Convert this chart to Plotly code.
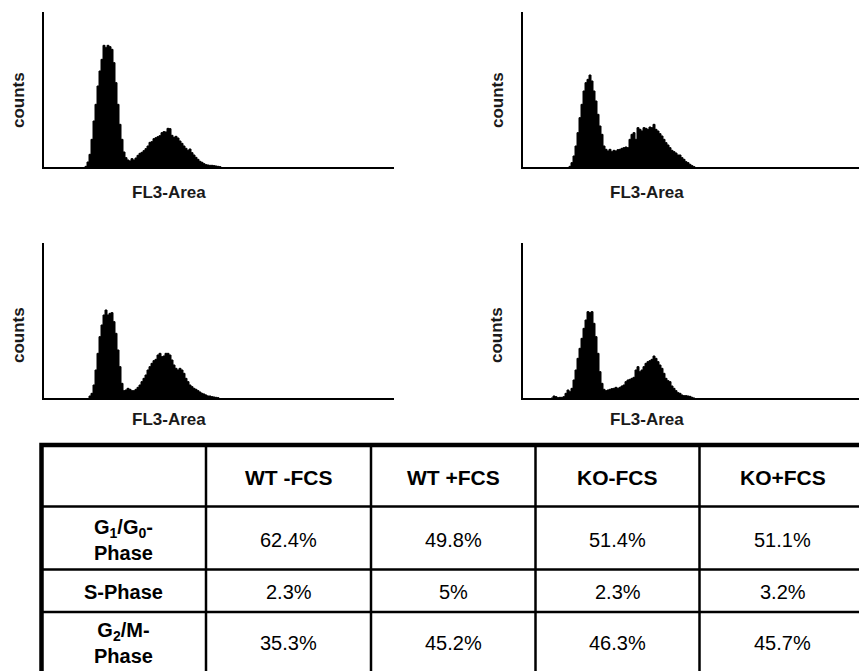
import plotly.graph_objects as go

# ---------------- data: histogram counts (bin width 2 channels) ----------------
BIN = 2
WT_NEG_START = 42
WT_NEG_COUNTS = [2, 15, 38, 83, 138, 188, 243, 288, 323, 365, 358, 365, 361, 353, 313, 253,
                 188, 128, 83, 45, 28, 21, 18, 25, 21, 27, 35, 41, 44, 49, 55, 63, 74, 76,
                 85, 88, 91, 94, 103, 106, 105, 116, 115, 95, 89, 92, 87, 78, 71, 63, 56,
                 50, 54, 43, 36, 29, 23, 17, 14, 10, 7, 6, 5, 5, 4, 3, 2, 1]

WT_POS_START = 47
WT_POS_COUNTS = [2, 13, 33, 63, 103, 148, 188, 228, 253, 263, 276, 258, 228, 198, 158, 123,
                 98, 63, 53, 48, 53, 46, 50, 48, 52, 53, 56, 58, 60, 58, 83, 98, 103, 83,
                 118, 113, 108, 118, 116, 113, 120, 118, 128, 113, 108, 100, 93, 83, 73,
                 66, 58, 50, 46, 42, 36, 36, 28, 23, 16, 13, 8, 4, 1]

KO_NEG_START = 46
KO_NEG_COUNTS = [6, 14, 39, 84, 134, 184, 219, 249, 264, 249, 254, 256, 229, 194, 144, 94,
                 44, 22, 24, 29, 26, 22, 22, 26, 32, 39, 49, 59, 69, 84, 94, 104, 112, 116,
                 129, 134, 124, 126, 134, 134, 129, 114, 99, 89, 84, 89, 84, 74, 59, 49,
                 39, 34, 29, 26, 22, 18, 14, 12, 9, 6, 6, 4, 3, 2, 1]

KO_POS_START = 29
KO_POS_COUNTS = [0, 6, 4, 1, 2, 2, 4, 14, 24, 19, 29, 54, 84, 119, 149, 179, 209, 234, 259,
                 256, 259, 224, 184, 134, 79, 44, 26, 22, 24, 26, 28, 29, 32, 29, 32, 36,
                 39, 49, 54, 56, 59, 62, 84, 94, 79, 84, 94, 104, 109, 112, 116, 126, 119,
                 109, 99, 89, 74, 59, 52, 49, 36, 29, 22, 16, 14, 9, 7, 7, 6, 5, 2, 0]

# ---------------- data: table ----------------
COL_HEADERS = ["WT -FCS", "WT +FCS", "KO-FCS", "KO+FCS"]
ROW_LABELS = ["G<sub>1</sub>/G<sub>0</sub>-<br>Phase", "S-Phase", "G<sub>2</sub>/M-<br>Phase"]
G1_VALUES = ["62.4%", "49.8%", "51.4%", "51.1%"]
S_VALUES = ["2.3%", "5%", "2.3%", "3.2%"]
G2_VALUES = ["35.3%", "45.2%", "46.3%", "45.7%"]

AXIS_X_TITLE = "FL3-Area"
AXIS_Y_TITLE = "counts"

# ---------------- layout helpers ----------------
W, H = 859, 671


def px(x):
    return x / W


def py(y):
    return 1 - y / H


FONT = "Liberation Sans, Arial, sans-serif"

fig = go.Figure()


def step_trace(start, counts, xa, ya):
    xs = [start - BIN / 2]
    ys = [0]
    for i, n in enumerate(counts):
        xs.append(start + i * BIN - BIN / 2)
        ys.append(n)
    xs.append(start + (len(counts) - 1) * BIN + BIN / 2)
    ys.append(0)
    return go.Scatter(x=xs, y=ys, mode="lines", line=dict(color="black", width=1, shape="hv"),
                      fill="tozeroy", fillcolor="black", xaxis=xa, yaxis=ya,
                      showlegend=False, hoverinfo="skip")


panels = [
    (WT_NEG_START, WT_NEG_COUNTS, "x", "y"),
    (WT_POS_START, WT_POS_COUNTS, "x2", "y2"),
    (KO_NEG_START, KO_NEG_COUNTS, "x3", "y3"),
    (KO_POS_START, KO_POS_COUNTS, "x4", "y4"),
]
for s, c, xa, ya in panels:
    fig.add_trace(step_trace(s, c, xa, ya))

# axes geometry (pixels)
left_dom = [px(44), px(394)]
right_dom = [px(523), 1.0]
top_dom = [py(167), py(12)]
bot_dom = [py(398), py(243)]

axis_common = dict(showline=True, linecolor="black", linewidth=2, showgrid=False,
                   zeroline=False, showticklabels=False, ticks="", fixedrange=True)

fig.update_layout(
    width=W, height=H, margin=dict(l=0, r=0, t=0, b=0),
    paper_bgcolor="white", plot_bgcolor="white",
    xaxis=dict(domain=left_dom, range=[0, 350], anchor="y", **axis_common),
    yaxis=dict(domain=top_dom, range=[0, 465], anchor="x", **axis_common),
    xaxis2=dict(domain=right_dom, range=[0, 336], anchor="y2", **axis_common),
    yaxis2=dict(domain=top_dom, range=[0, 465], anchor="x2", **axis_common),
    xaxis3=dict(domain=left_dom, range=[0, 350], anchor="y3", **axis_common),
    yaxis3=dict(domain=bot_dom, range=[0, 465], anchor="x3", **axis_common),
    xaxis4=dict(domain=right_dom, range=[0, 336], anchor="y4", **axis_common),
    yaxis4=dict(domain=bot_dom, range=[0, 465], anchor="x4", **axis_common),
    font=dict(family=FONT, color="black"),
)

annotations = []
label_font = dict(family=FONT, size=17, color="#1a1a1a")
for cx_counts, cx_fl3, cy_counts, cy_fl3 in [(18, 169, 100, 192), (497, 647, 100, 192),
                                             (18, 169, 335, 419), (496, 647, 335, 419)]:
    annotations.append(dict(x=px(cx_counts), y=py(cy_counts), xref="paper", yref="paper",
                            text="<b>%s</b>" % AXIS_Y_TITLE, textangle=-90, showarrow=False,
                            xanchor="center", yanchor="middle", font=label_font))
    annotations.append(dict(x=px(cx_fl3), y=py(cy_fl3), xref="paper", yref="paper",
                            text="<b>%s</b>" % AXIS_X_TITLE, showarrow=False,
                            xanchor="center", yanchor="middle", font=label_font))

# ---------------- table ----------------
col_edges = [41.5, 206, 371, 535.5, 699.5, 866]
row_edges = [445, 506.5, 569.5, 612, 676]
shapes = []
# outer border
shapes.append(dict(type="rect", xref="paper", yref="paper",
                   x0=px(col_edges[0]), x1=px(col_edges[-1]),
                   y0=py(row_edges[-1]), y1=py(row_edges[0]),
                   line=dict(color="black", width=4.5)))
for xe in col_edges[1:-1]:
    shapes.append(dict(type="line", xref="paper", yref="paper", x0=px(xe), x1=px(xe),
                       y0=py(row_edges[0]), y1=py(row_edges[-1]),
                       line=dict(color="black", width=2.5)))
for ye in row_edges[1:-1]:
    shapes.append(dict(type="line", xref="paper", yref="paper", x0=px(col_edges[0]),
                       x1=px(col_edges[-1]), y0=py(ye), y1=py(ye),
                       line=dict(color="black", width=2.5)))

col_centers = [(col_edges[i] + col_edges[i + 1]) / 2 for i in range(len(col_edges) - 1)]
row_centers = [477, 540, 592, 643]
thead = dict(family=FONT, size=21, color="black")
tfont_b = dict(family=FONT, size=20, color="black")
tfont = dict(family=FONT, size=20, color="black")

for j, h in enumerate(COL_HEADERS):
    annotations.append(dict(x=px(col_centers[j + 1]), y=py(row_centers[0]), xref="paper",
                            yref="paper", text="<b>%s</b>" % h, showarrow=False,
                            xanchor="center", yanchor="middle", font=thead))
for i, (lab, vals) in enumerate(zip(ROW_LABELS, [G1_VALUES, S_VALUES, G2_VALUES])):
    annotations.append(dict(x=px(col_centers[0]), y=py(row_centers[i + 1]), xref="paper",
                            yref="paper", text="<b>%s</b>" % lab, showarrow=False,
                            xanchor="center", yanchor="middle", font=tfont_b))
    for j, v in enumerate(vals):
        annotations.append(dict(x=px(col_centers[j + 1]), y=py(row_centers[i + 1]),
                                xref="paper", yref="paper", text=v, showarrow=False,
                                xanchor="center", yanchor="middle", font=tfont))

fig.update_layout(annotations=annotations, shapes=shapes)
fig.write_html("out.html", config={"displayModeBar": False, "staticPlot": True},
               post_script="document.body.style.margin='0';")
